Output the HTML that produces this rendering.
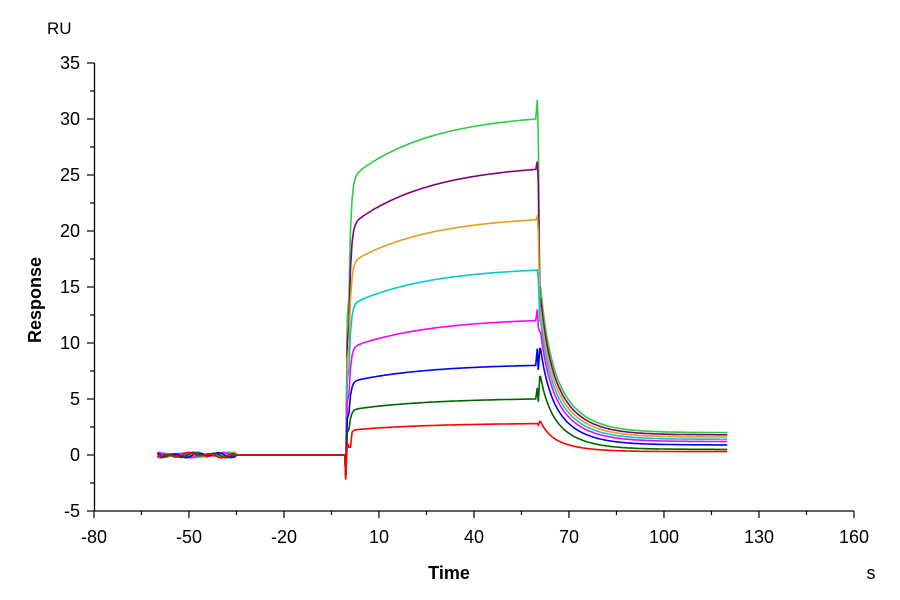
<!DOCTYPE html>
<html><head><meta charset="utf-8"><style>
html,body{margin:0;padding:0;background:#fff;width:900px;height:600px;overflow:hidden}
svg text{font-family:"Liberation Sans",Arial,sans-serif;fill:#000}
</style></head><body>
<svg id="s" width="900" height="600" xmlns="http://www.w3.org/2000/svg">
<g id="axes" stroke="#000" stroke-width="1.3" fill="none">
<line x1="94.5" y1="63" x2="94.5" y2="511"/>
<line x1="94.5" y1="511" x2="854" y2="511"/>
</g>
<g id="ticks" stroke="#000" stroke-width="1.2"></g>
<g id="labels" font-size="18"></g>
<text x="47" y="34" font-size="17">RU</text>
<text x="449" y="579" font-size="18" font-weight="bold" text-anchor="middle">Time</text>
<text x="871" y="579" font-size="18" text-anchor="middle">s</text>
<text transform="translate(41,300) rotate(-90)" font-size="18" font-weight="bold" text-anchor="middle">Response</text>
<g id="curves" fill="none" stroke-width="1.6"></g>
</svg>
<script>
var X=function(t){return 347.3+t*3.1667},Y=function(r){return 455+(-r)*11.2};
var NS="http://www.w3.org/2000/svg";
function el(p,n,a,txt){var e=document.createElementNS(NS,n);for(var k in a)e.setAttribute(k,a[k]);if(txt!=null)e.textContent=txt;document.getElementById(p).appendChild(e);}
for(var v=-5;v<=35;v+=2.5){var y=Y(v);var major=(v%5===0);el("ticks","line",{x1:major?87:90,x2:94.5,y1:y,y2:y});if(major)el("labels","text",{x:80,y:y+6,"text-anchor":"end"},String(v));}
for(var t=-80;t<=160;t+=15){var x=X(t);var major=((t+80)%30===0);el("ticks","line",{x1:x,x2:x,y1:511,y2:major?518:515});if(major)el("labels","text",{x:x,y:543,"text-anchor":"middle"},String(t));}
var S=[
["#2ecc40",24.5,30,2.0,31.7,15],
["#800080",20.3,25.5,1.8,26.2,14],
["#e0a020",17,21,1.6,21.3,13],
["#00cccc",13.3,16.5,1.4,16.5,12],
["#ff00ff",9.5,12,1.2,13,11],
["#0000ee",6.5,8,0.9,9.5,9.5],
["#006400",4,5,0.5,6,7],
["#ff0000",2.2,2.8,0.3,2.8,3]];
S.forEach(function(s,i){
 var c=s[0],a=s[1],b=s[2],e=s[3],pk=s[4],d0=s[5];var pts=[];
 for(var t=-60;t<=-1;t+=0.5){var n=(t<-35?0.15*Math.sin(t*0.9+i*1.3)+0.1*Math.sin(t*0.37+i):0);pts.push([t,n]);}
 pts.push([-0.8,0]);pts.push([-0.5,-1.5-0.1*i]);pts.push([0,a*0.5]);
 var k=(1-Math.exp(-59.5/25));
 for(var t=0.5;t<=59.5;t+=0.5){var r=a*(1-Math.exp(-t/0.6))+(b-a)*(1-Math.exp(-t/25))/k;if(i==7&&t<1.5)r=0.7;pts.push([t,r]);}
 pts.push([60,pk]);pts.push([60.3,b*0.95]);pts.push([60.8,d0]);
 for(var t=61;t<=120;t+=0.5){var r=e+(d0-e)*(0.35*Math.exp(-(t-61)/2.5)+0.65*Math.exp(-(t-61)/8));pts.push([t,r]);}
 el("curves","polyline",{stroke:c,points:pts.map(function(p){return X(p[0]).toFixed(1)+","+Y(p[1]).toFixed(1)}).join(" ")});
});
</script>
</body></html>
